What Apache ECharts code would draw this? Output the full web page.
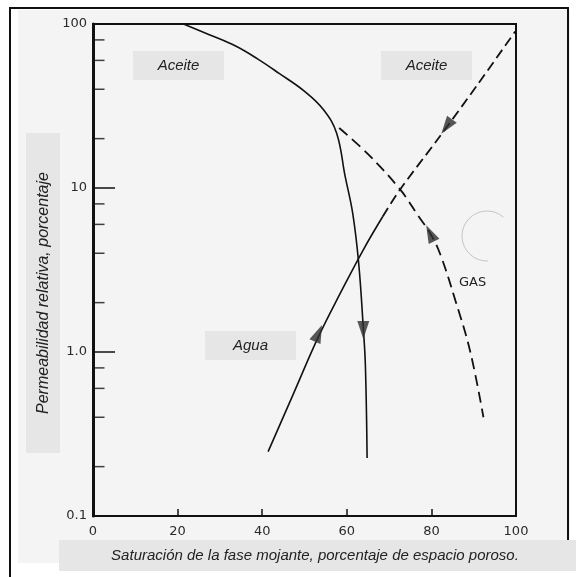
<!DOCTYPE html>
<html>
<head>
<meta charset="utf-8">
<script src="https://cdn.jsdelivr.net/npm/echarts@6/dist/echarts.min.js"></script>
<style>
  html, body { margin: 0; padding: 0; background: #fff; }
  #chart { width: 576px; height: 577px; }
</style>
</head>
<body>
<div id="chart"></div>
<script>
// curvas (x: saturacion %, y: permeabilidad relativa %)
const aceiteSolida = [[21.4, 100], [27.5, 86], [33.6, 73.6], [38.8, 61.5], [44, 50], [50.1, 38.7], [54.5, 30], [57.6, 21.6], [59.6, 11.8], [61.4, 7.0], [62.8, 3.5], [63.9, 1.4], [64.4, 0.82], [64.8, 0.226]]
const aguaSolida = [[41.4, 0.247], [47.3, 0.55], [53.3, 1.24], [58.5, 2.29], [63.9, 4.2], [68.5, 6.7]]
const aguaDiscontinua = [[68.5, 6.7], [72.6, 9.8], [81.8, 20.3], [91, 43], [99.8, 90]]
const gasDiscontinua = [[58.2, 23.2], [64.9, 16.2], [72.6, 9.8], [77, 6.7], [79.7, 5.3], [82, 4.0], [85.7, 2.05], [89.2, 1.0], [92.3, 0.40]]
// flechas: x, y, giro
const flechas = [[63.9, 1.36, 180], [53.3, 1.3, -23], [83.6, 23.7, 144], [79.7, 5.3, 26]]
const ticksMenores = [80, 60, 40, 20, 8, 6, 4, 2, 0.8, 0.6, 0.4, 0.2]
const etiquetasY = { 0.1: '0.1', 1: '1.0', 10: '10', 100: '100' }

const chart = echarts.init(document.getElementById('chart'))

const fuenteEje = { color: '#2a2a2a', fontFamily: 'DejaVu Sans', fontSize: 13 }
const fuenteCaja = { fill: '#222', font: 'italic 15px "Liberation Sans"', align: 'center', verticalAlign: 'middle' }

function caja (x, y, w, h, texto) {
  return {
    type: 'group',
    z: 50,
    children: [
      { type: 'rect', shape: { x: x, y: y, width: w, height: h }, style: { fill: '#e6e6e6' } },
      { type: 'text', x: x + w / 2, y: y + h / 2, style: Object.assign({ text: texto }, fuenteCaja) }
    ]
  }
}

chart.setOption({
  backgroundColor: '#fff',
  animation: false,
  grid: { left: 93, top: 24, width: 423, height: 492, show: true, borderColor: '#111', borderWidth: 2 },
  xAxis: {
    type: 'value', min: 0, max: 100, interval: 20,
    axisLine: { lineStyle: { color: '#111', width: 2 } },
    axisTick: { inside: true, length: 7, lineStyle: { color: '#111', width: 1.5 } },
    axisLabel: Object.assign({ margin: 9 }, fuenteEje),
    splitLine: { show: false }
  },
  yAxis: {
    type: 'log', min: 0.1, max: 100, logBase: 10,
    axisLine: { show: true, lineStyle: { color: '#111', width: 3 } },
    axisTick: { inside: true, length: 22, lineStyle: { color: '#111', width: 1.5 } },
    axisLabel: Object.assign({ margin: 6, formatter: v => etiquetasY[+v.toPrecision(3)] || '' }, fuenteEje),
    splitLine: { show: false }
  },
  series: [
    { type: 'line', data: aceiteSolida, smooth: 0.4, symbol: 'none', lineStyle: { color: '#111', width: 1.6 } },
    { type: 'line', data: aguaSolida, smooth: 0.4, symbol: 'none', lineStyle: { color: '#111', width: 1.6 } },
    { type: 'line', data: aguaDiscontinua, smooth: 0.3, symbol: 'none', lineStyle: { color: '#111', width: 1.8, type: [10, 5] } },
    { type: 'line', data: gasDiscontinua, smooth: 0.4, symbol: 'none', lineStyle: { color: '#111', width: 1.8, type: [11, 6] } },
    {
      type: 'scatter', data: flechas, clip: false,
      symbol: 'path://M0,0 L6,18 L-6,18 Z', symbolSize: [12, 18],
      symbolRotate: v => v[2],
      itemStyle: { color: '#2e2e2e' }, z: 5
    },
    {
      type: 'scatter', data: ticksMenores.map(v => [0, v]), clip: false,
      symbol: 'rect', symbolSize: [11, 1.5], symbolOffset: [6, 0],
      itemStyle: { color: '#111' }, silent: true
    }
  ],
  graphic: [
    { type: 'rect', z: -10, shape: { x: 18, y: 10, width: 552, height: 553 }, style: { fill: '#f4f4f4' } },
    { type: 'polyline', z: 10, shape: { points: [[10, 577], [10, 8], [568, 8], [568, 540]] }, style: { stroke: '#111', lineWidth: 2, fill: null } },
    { type: 'arc', z: 1, shape: { cx: 487, cy: 236, r: 25, startAngle: 88 * Math.PI / 180, endAngle: 311 * Math.PI / 180, clockwise: true }, style: { stroke: '#c4c4c4', lineWidth: 1, fill: null } },
    caja(133, 51, 91, 29, 'Aceite'),
    caja(381, 51, 91, 29, 'Aceite'),
    caja(205, 331, 91, 29, 'Agua'),
    { type: 'text', z: 50, x: 459, y: 283, style: { text: 'GAS', fill: '#222', font: '13px "DejaVu Sans"', verticalAlign: 'middle' } },
    {
      type: 'group', z: 50,
      children: [
        { type: 'rect', shape: { x: 26, y: 133, width: 34, height: 320 }, style: { fill: '#e6e6e6' } },
        { type: 'text', x: 44, y: 293, rotation: Math.PI / 2, style: { text: 'Permeabilidad relativa, porcentaje', fill: '#222', font: 'italic 16px "Liberation Sans"', align: 'center', verticalAlign: 'middle' } }
      ]
    },
    {
      type: 'group', z: 50,
      children: [
        { type: 'rect', shape: { x: 59, y: 540, width: 517, height: 31 }, style: { fill: '#e6e6e6' } },
        { type: 'text', x: 315, y: 556, style: { text: 'Saturación de la fase mojante, porcentaje de espacio poroso.', fill: '#222', font: 'italic 15px "Liberation Sans"', align: 'center', verticalAlign: 'middle' } }
      ]
    }
  ]
})
</script>
</body>
</html>
